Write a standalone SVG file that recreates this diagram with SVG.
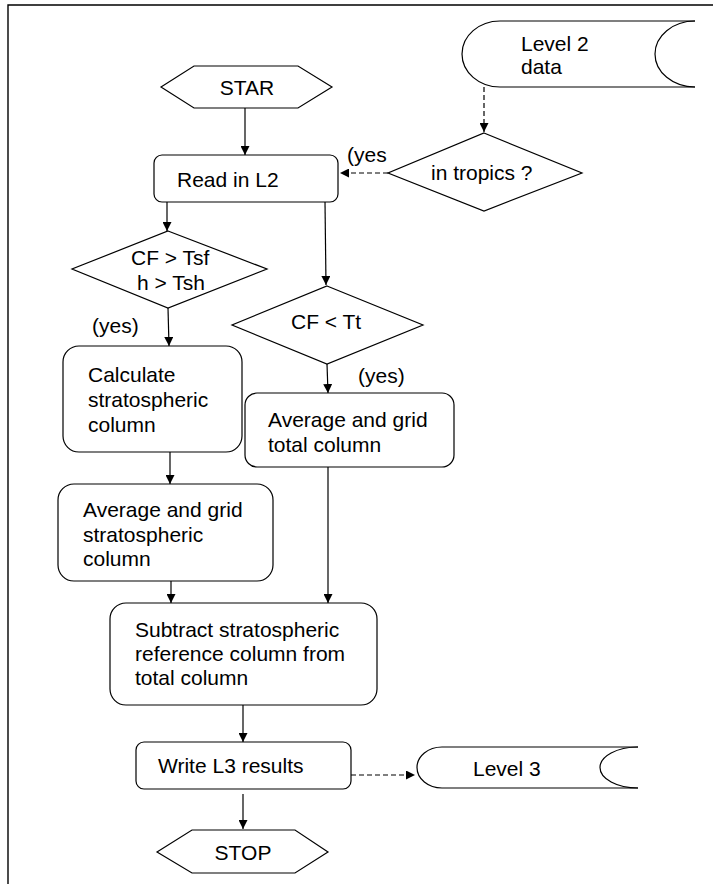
<svg xmlns="http://www.w3.org/2000/svg" width="713" height="884" viewBox="0 0 713 884">
<style>
.s{fill:#fff;stroke:#000;stroke-width:1.2}
.t{font-family:"Liberation Sans",Arial,sans-serif;font-size:21px;fill:#000}
.c{fill:none;stroke:#000;stroke-width:1.2}
.d{fill:none;stroke:#000;stroke-width:1.2;stroke-dasharray:5 3}
</style>
<defs>
<marker id="ah" viewBox="0 0 10 10" refX="10" refY="5" markerWidth="9" markerHeight="9" markerUnits="userSpaceOnUse" orient="auto">
<path d="M0,0 L10,5 L0,10 z" fill="#000"/>
</marker>
</defs>
<rect width="713" height="884" fill="#fff"/>
<path d="M8,884 L8,5 L713,5" fill="none" stroke="#000" stroke-width="1.4"/>
<g id="connectors">
<line class="c" x1="245" y1="108" x2="245" y2="155" marker-end="url(#ah)"/>
<line class="d" x1="484" y1="87" x2="484" y2="132" marker-end="url(#ah)"/>
<line class="d" x1="388" y1="173" x2="340" y2="173" marker-end="url(#ah)"/>
<line class="c" x1="167" y1="202" x2="167" y2="231" marker-end="url(#ah)"/>
<line class="c" x1="325" y1="202" x2="326" y2="285" marker-end="url(#ah)"/>
<line class="c" x1="168" y1="308" x2="169" y2="346" marker-end="url(#ah)"/>
<line class="c" x1="327" y1="364" x2="328" y2="393" marker-end="url(#ah)"/>
<line class="c" x1="170" y1="452" x2="170" y2="484" marker-end="url(#ah)"/>
<line class="c" x1="171" y1="581" x2="171" y2="603" marker-end="url(#ah)"/>
<line class="c" x1="328" y1="467" x2="328" y2="603" marker-end="url(#ah)"/>
<line class="c" x1="243" y1="705" x2="243" y2="742" marker-end="url(#ah)"/>
<line class="c" x1="243" y1="794" x2="243" y2="829" marker-end="url(#ah)"/>
<line class="d" x1="351" y1="775" x2="415" y2="775" marker-end="url(#ah)"/>
<text class="t" x="347" y="162">(yes</text>
<text class="t" x="92" y="333">(yes)</text>
<text class="t" x="358" y="383">(yes)</text>
</g>
<g id="star">
<polygon class="s" points="161,87 194,66 298,66 332,87 298,108 194,108"/>
<text class="t" x="247" y="95" text-anchor="middle">STAR</text>
</g>
<g id="level2">
<path class="s" d="M695,21 L500,21 A38,33 0 0 0 500,87 L695,87"/>
<path class="c" d="M695,21 A40,33 0 0 0 695,87"/>
<text class="t" x="521" y="51">Level 2</text>
<text class="t" x="521" y="74">data</text>
</g>
<g id="tropics">
<polygon class="s" points="484,133 582,173 484,211 388,173"/>
<text class="t" x="431" y="180">in tropics ?</text>
</g>
<g id="read">
<rect class="s" x="154" y="155" width="184" height="47" rx="8"/>
<text class="t" x="177" y="187">Read in L2</text>
</g>
<g id="cfsf">
<polygon class="s" points="168,231 267,269 168,308 72,269"/>
<text class="t" x="131" y="265">CF &gt; Tsf</text>
<text class="t" x="137" y="290">h &gt; Tsh</text>
</g>
<g id="cftt">
<polygon class="s" points="327,286 423,325 327,364 232,325"/>
<text class="t" x="291" y="329">CF &lt; Tt</text>
</g>
<g id="calc">
<rect class="s" x="63" y="346" width="179" height="106" rx="16"/>
<text class="t" x="88" y="382">Calculate</text>
<text class="t" x="88" y="407">stratospheric</text>
<text class="t" x="88" y="432">column</text>
</g>
<g id="avgtotal">
<rect class="s" x="245" y="393" width="209" height="74" rx="12"/>
<text class="t" x="268" y="427">Average and grid</text>
<text class="t" x="268" y="452">total column</text>
</g>
<g id="avgstrat">
<rect class="s" x="58" y="484" width="215" height="97" rx="16"/>
<text class="t" x="83" y="517">Average and grid</text>
<text class="t" x="83" y="542">stratospheric</text>
<text class="t" x="83" y="566">column</text>
</g>
<g id="subtract">
<rect class="s" x="110" y="603" width="267" height="102" rx="16"/>
<text class="t" x="135" y="637">Subtract stratospheric</text>
<text class="t" x="135" y="661">reference column from</text>
<text class="t" x="135" y="685">total column</text>
</g>
<g id="write">
<rect class="s" x="136" y="742" width="215" height="47" rx="8"/>
<text class="t" x="158" y="773">Write L3 results</text>
</g>
<g id="level3">
<path class="s" d="M638,747 L442,747 A25,20.5 0 0 0 442,788 L638,788"/>
<path class="c" d="M638,747 A38,20.5 0 0 0 638,788"/>
<text class="t" x="473" y="776">Level 3</text>
</g>
<g id="stop">
<polygon class="s" points="157,852 192,830 295,830 328,852 295,873 192,873"/>
<text class="t" x="243" y="860" text-anchor="middle">STOP</text>
</g>
</svg>
